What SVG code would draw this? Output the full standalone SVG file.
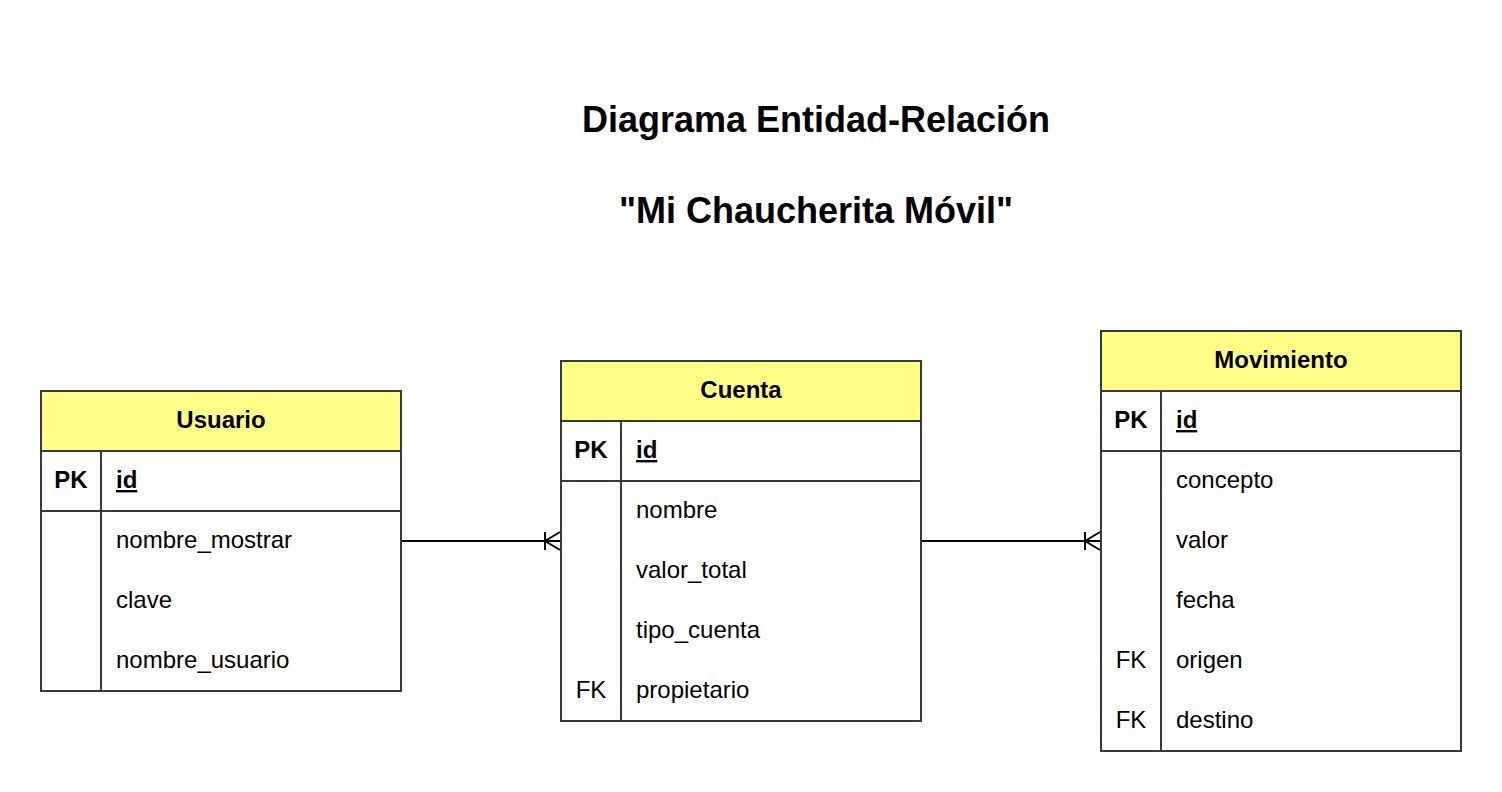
<svg xmlns="http://www.w3.org/2000/svg" width="1502" height="792" viewBox="0 0 1502 792">
<style>
.box{fill:#ffffff;stroke:#36393d;stroke-width:2}
.hdr{fill:#ffff88;stroke:#36393d;stroke-width:2}
.ln{stroke:#36393d;stroke-width:2;fill:none}
.t{font-family:"Liberation Sans",Arial,sans-serif;font-size:24px;fill:#000}
.b{font-weight:bold}
.c{text-anchor:middle}
.u{text-decoration:underline}
.title{font-family:"Liberation Sans",Arial,sans-serif;font-size:36px;font-weight:bold;text-anchor:middle;fill:#000}
.conn{stroke:#000;stroke-width:2;fill:none}
</style>
<rect width="1502" height="792" fill="#ffffff"/>
<g id="title">
<text class="title" x="816" y="132">Diagrama Entidad-Relación</text>
<text class="title" x="816" y="223">"Mi Chaucherita Móvil"</text>
</g>
<g id="usuario">
<rect class="box" x="41" y="391" width="360" height="300"/>
<rect class="hdr" x="41" y="391" width="360" height="60"/>
<line class="ln" x1="41" y1="511" x2="401" y2="511"/>
<line class="ln" x1="101" y1="451" x2="101" y2="691"/>
<text class="t b c" x="221" y="428">Usuario</text>
<text class="t b c" x="71" y="488">PK</text>
<text class="t b u" x="116" y="488">id</text>
<text class="t" x="116" y="548">nombre_mostrar</text>
<text class="t" x="116" y="608">clave</text>
<text class="t" x="116" y="668">nombre_usuario</text>
</g>
<g id="cuenta">
<rect class="box" x="561" y="361" width="360" height="360"/>
<rect class="hdr" x="561" y="361" width="360" height="60"/>
<line class="ln" x1="561" y1="481" x2="921" y2="481"/>
<line class="ln" x1="621" y1="421" x2="621" y2="721"/>
<text class="t b c" x="741" y="398">Cuenta</text>
<text class="t b c" x="591" y="458">PK</text>
<text class="t b u" x="636" y="458">id</text>
<text class="t" x="636" y="518">nombre</text>
<text class="t" x="636" y="578">valor_total</text>
<text class="t" x="636" y="638">tipo_cuenta</text>
<text class="t c" x="591" y="698">FK</text>
<text class="t" x="636" y="698">propietario</text>
</g>
<g id="movimiento">
<rect class="box" x="1101" y="331" width="360" height="420"/>
<rect class="hdr" x="1101" y="331" width="360" height="60"/>
<line class="ln" x1="1101" y1="451" x2="1461" y2="451"/>
<line class="ln" x1="1161" y1="391" x2="1161" y2="751"/>
<text class="t b c" x="1281" y="368">Movimiento</text>
<text class="t b c" x="1131" y="428">PK</text>
<text class="t b u" x="1176" y="428">id</text>
<text class="t" x="1176" y="488">concepto</text>
<text class="t" x="1176" y="548">valor</text>
<text class="t" x="1176" y="608">fecha</text>
<text class="t c" x="1131" y="668">FK</text>
<text class="t" x="1176" y="668">origen</text>
<text class="t c" x="1131" y="728">FK</text>
<text class="t" x="1176" y="728">destino</text>
</g>
<g id="connectors">
<path class="conn" d="M402 541 H560"/>
<path class="conn" d="M545 532 V550 M545 541 L560 532 M545 541 L560 550"/>
<path class="conn" d="M922 541 H1100"/>
<path class="conn" d="M1085 532 V550 M1085 541 L1100 532 M1085 541 L1100 550"/>
</g>
</svg>
